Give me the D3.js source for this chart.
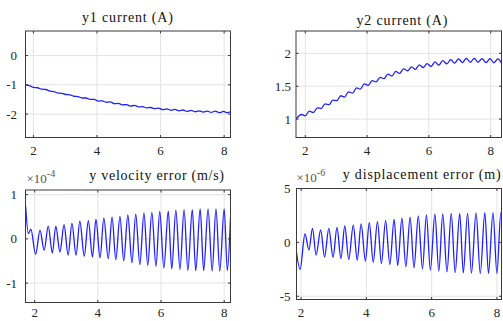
<!DOCTYPE html>
<html><head><meta charset="utf-8">
<script src="https://cdn.jsdelivr.net/npm/d3@7"></script>
<style>body{margin:0;background:#fff}svg{display:block}</style>
</head><body>
<svg id="c" width="503" height="321"></svg>
<script>
// ---------- DATA ----------
const titles = ["y1 current (A)", "y2 current (A)", "y velocity error (m/s)", "y displacement error (m)"];
const xTicks = [2, 4, 6, 8];
const yTicks1 = [-2, -1, 0];
const yTicks2 = [1, 1.5, 2];
const yTicks3 = [-1, 0, 1];
const yTicks4 = [-5, 0, 5];
const expLabel3 = "-4";
const expLabel4 = "-6";

// y1 current (A)
const t1 = [1.75,1.88,2.00,2.13,2.26,2.39,2.51,2.64,2.77,2.89,3.02,3.15,3.27,3.40,3.53,3.66,3.78,3.91,4.04,4.16,4.29,4.42,4.55,4.67,4.80,4.93,5.05,5.18,5.31,5.44,5.56,5.69,5.82,5.94,6.07,6.20,6.32,6.45,6.58,6.71,6.83,6.96,7.09,7.21,7.34,7.47,7.59,7.72,7.85,7.98,8.10,8.23];
const y1 = [-1.00,-1.03,-1.09,-1.10,-1.15,-1.16,-1.21,-1.23,-1.28,-1.29,-1.33,-1.34,-1.39,-1.40,-1.45,-1.45,-1.50,-1.50,-1.555,-1.545,-1.595,-1.585,-1.645,-1.635,-1.685,-1.675,-1.725,-1.705,-1.755,-1.745,-1.785,-1.775,-1.815,-1.795,-1.85,-1.82,-1.87,-1.84,-1.89,-1.86,-1.91,-1.87,-1.92,-1.89,-1.93,-1.90,-1.94,-1.90,-1.95,-1.91,-1.95,-1.91];

// y2 current (A)
const t2 = [1.70,1.88,2.00,2.13,2.26,2.39,2.51,2.64,2.77,2.89,3.02,3.15,3.27,3.40,3.53,3.66,3.78,3.91,4.04,4.16,4.29,4.42,4.55,4.67,4.80,4.93,5.05,5.18,5.31,5.44,5.56,5.69,5.82,5.94,6.07,6.20,6.32,6.45,6.58,6.71,6.83,6.96,7.09,7.21,7.34,7.47,7.59,7.72,7.85,7.98,8.10,8.23,8.35];
const y2 = [1.00,1.07,1.05,1.12,1.10,1.17,1.16,1.23,1.22,1.29,1.28,1.355,1.335,1.415,1.395,1.475,1.455,1.535,1.515,1.585,1.565,1.635,1.615,1.685,1.655,1.725,1.695,1.765,1.735,1.795,1.755,1.825,1.785,1.845,1.80,1.87,1.82,1.89,1.84,1.905,1.85,1.915,1.86,1.925,1.865,1.925,1.865,1.92,1.86,1.92,1.855,1.915,1.85];

// y velocity error (x 1e-4 m/s)
const t3 = [1.715,1.80,1.88,2.03,2.17,2.30,2.43,2.56,2.67,2.80,2.93,3.06,3.18,3.31,3.43,3.57,3.70,3.83,3.94,4.07,4.19,4.33,4.45,4.57,4.70,4.82,4.95,5.08,5.20,5.33,5.46,5.58,5.71,5.84,5.96,6.09,6.23,6.34,6.47,6.60,6.73,6.85,6.99,7.10,7.24,7.35,7.49,7.62,7.74,7.86,8.00,8.10,8.20];
const y3 = [0.74,0.12,0.22,-0.35,0.20,-0.26,0.29,-0.32,0.29,-0.30,0.32,-0.37,0.35,-0.37,0.40,-0.39,0.41,-0.41,0.44,-0.43,0.47,-0.45,0.49,-0.47,0.51,-0.50,0.54,-0.54,0.56,-0.58,0.59,-0.60,0.60,-0.62,0.62,-0.66,0.63,-0.68,0.65,-0.69,0.66,-0.71,0.66,-0.72,0.68,-0.72,0.68,-0.73,0.68,-0.73,0.68,-0.72,0.47];

// y displacement error (x 1e-6 m)
const t4 = [1.825,1.97,2.12,2.24,2.35,2.46,2.60,2.72,2.85,2.98,3.10,3.22,3.34,3.46,3.60,3.72,3.84,3.97,4.09,4.21,4.34,4.46,4.59,4.72,4.85,4.96,5.09,5.21,5.34,5.46,5.59,5.72,5.84,5.96,6.10,6.22,6.34,6.47,6.60,6.72,6.86,6.97,7.10,7.22,7.36,7.49,7.63,7.74,7.88,8.00,8.12,8.19];
const y4 = [-0.09,-2.5,0.78,-0.71,1.30,-1.18,1.15,-1.34,1.30,-1.40,1.40,-1.49,1.52,-1.58,1.61,-1.65,1.71,-1.74,1.83,-1.83,1.93,-1.96,2.02,-2.05,2.14,-2.14,2.24,-2.27,2.33,-2.36,2.45,-2.45,2.55,-2.58,2.61,-2.67,2.64,-2.73,2.70,-2.80,2.70,-2.83,2.70,-2.86,2.73,-2.89,2.76,-2.89,2.76,-2.89,2.76,0.0];

// ---------- LAYOUT ----------
const panels = [
  {t:t1, y:y1, title:titles[0], yTicks:yTicks1, xd:[1.75,8.2], yd:[-2.8,0.84], L:25.5, R:230.5, T:31, B:137.5,
   ylabX:17, titleX:127.5, titleY:22, titleW:91, titleAnchor:"middle", xlabY:155},
  {t:t2, y:y2, title:titles[1], yTicks:yTicks2, xd:[1.70,8.35], yd:[0.72,2.34], L:296, R:501.5, T:31, B:137.5,
   ylabX:291, titleX:402, titleY:24.5, titleW:91, titleAnchor:"middle", xlabY:155},
  {t:t3, y:y3, title:titles[2], yTicks:yTicks3, xd:[1.71,8.2], yd:[-1.44,1.106], L:25.5, R:230.5, T:190, B:302.5,
   ylabX:17, titleX:89.3, titleY:180, titleW:134.7, titleAnchor:"start", xlabY:316.5, exp:expLabel3, expX:26.5, expY:183},
  {t:t4, y:y4, title:titles[3], yTicks:yTicks4, xd:[1.86,8.14], yd:[-5.3,5], L:296.5, R:501.5, T:188.5, B:299.5,
   ylabX:290.5, titleX:342.7, titleY:178.5, titleW:158, titleAnchor:"start", xlabY:316.5, exp:expLabel4, expX:296.5, expY:182}
];

const svg = d3.select("#c");
const FONT = "'Liberation Serif','Times New Roman',serif";
const axisCol = "#3a3a3a";
const textCol = "#262626";

panels.forEach((p, i) => {
  const x = d3.scaleLinear().domain(p.xd).range([p.L, p.R]);
  const y = d3.scaleLinear().domain(p.yd).range([p.B, p.T]);
  const g = svg.append("g");

  // grid
  g.selectAll(".gx").data(xTicks).join("line")
    .attr("x1", d => x(d)).attr("x2", d => x(d)).attr("y1", p.T).attr("y2", p.B)
    .attr("stroke", "#e3e3e3").attr("stroke-width", 1);
  g.selectAll(".gy").data(p.yTicks).join("line")
    .attr("y1", d => y(d)).attr("y2", d => y(d)).attr("x1", p.L).attr("x2", p.R)
    .attr("stroke", "#e3e3e3").attr("stroke-width", 1);

  // clip
  const cid = "clip" + i;
  svg.append("clipPath").attr("id", cid).append("rect")
    .attr("x", p.L).attr("y", p.T).attr("width", p.R - p.L).attr("height", p.B - p.T);

  const line = d3.line().x(d => x(d[0])).y(d => y(d[1])).curve(d3.curveMonotoneX);
  g.append("path").datum(p.t.map((v, k) => [v, p.y[k]]))
    .attr("clip-path", `url(#${cid})`)
    .attr("d", line).attr("fill", "none").attr("stroke", "#2020ff").attr("stroke-width", 1.3);

  // box
  g.append("rect").attr("x", p.L).attr("y", p.T).attr("width", p.R - p.L).attr("height", p.B - p.T)
    .attr("fill", "none").attr("stroke", axisCol).attr("stroke-width", 1);

  // inward tick marks on all sides
  const tl = 2.5;
  xTicks.forEach(d => {
    g.append("line").attr("x1", x(d)).attr("x2", x(d)).attr("y1", p.B).attr("y2", p.B - tl).attr("stroke", axisCol);
    g.append("line").attr("x1", x(d)).attr("x2", x(d)).attr("y1", p.T).attr("y2", p.T + tl).attr("stroke", axisCol);
  });
  p.yTicks.forEach(d => {
    g.append("line").attr("y1", y(d)).attr("y2", y(d)).attr("x1", p.L).attr("x2", p.L + tl).attr("stroke", axisCol);
    g.append("line").attr("y1", y(d)).attr("y2", y(d)).attr("x1", p.R).attr("x2", p.R - tl).attr("stroke", axisCol);
  });

  // tick labels
  g.selectAll(".xl").data(xTicks).join("text")
    .attr("x", d => x(d)).attr("y", p.xlabY).attr("text-anchor", "middle")
    .attr("font-family", FONT).attr("font-size", 13).attr("fill", textCol).text(d => d);
  g.selectAll(".yl").data(p.yTicks).join("text")
    .attr("x", p.ylabX).attr("y", d => y(d)).attr("dy", "0.35em").attr("text-anchor", "end")
    .attr("font-family", FONT).attr("font-size", 13).attr("fill", textCol).text(d => d);

  // title
  g.append("text").attr("x", p.titleX).attr("y", p.titleY).attr("text-anchor", p.titleAnchor)
    .attr("font-family", FONT).attr("font-size", 14).attr("fill", "#111")
    .attr("textLength", p.titleW).attr("lengthAdjust", "spacing").text(p.title);

  // exponent
  if (p.exp) {
    const e = g.append("text").attr("x", p.expX).attr("y", p.expY)
      .attr("font-family", FONT).attr("font-size", 13).attr("fill", "#555");
    e.append("tspan").text("×10");
    e.append("tspan").attr("dy", -6).attr("font-size", 10).text(p.exp);
  }
});
</script>
</body></html>
